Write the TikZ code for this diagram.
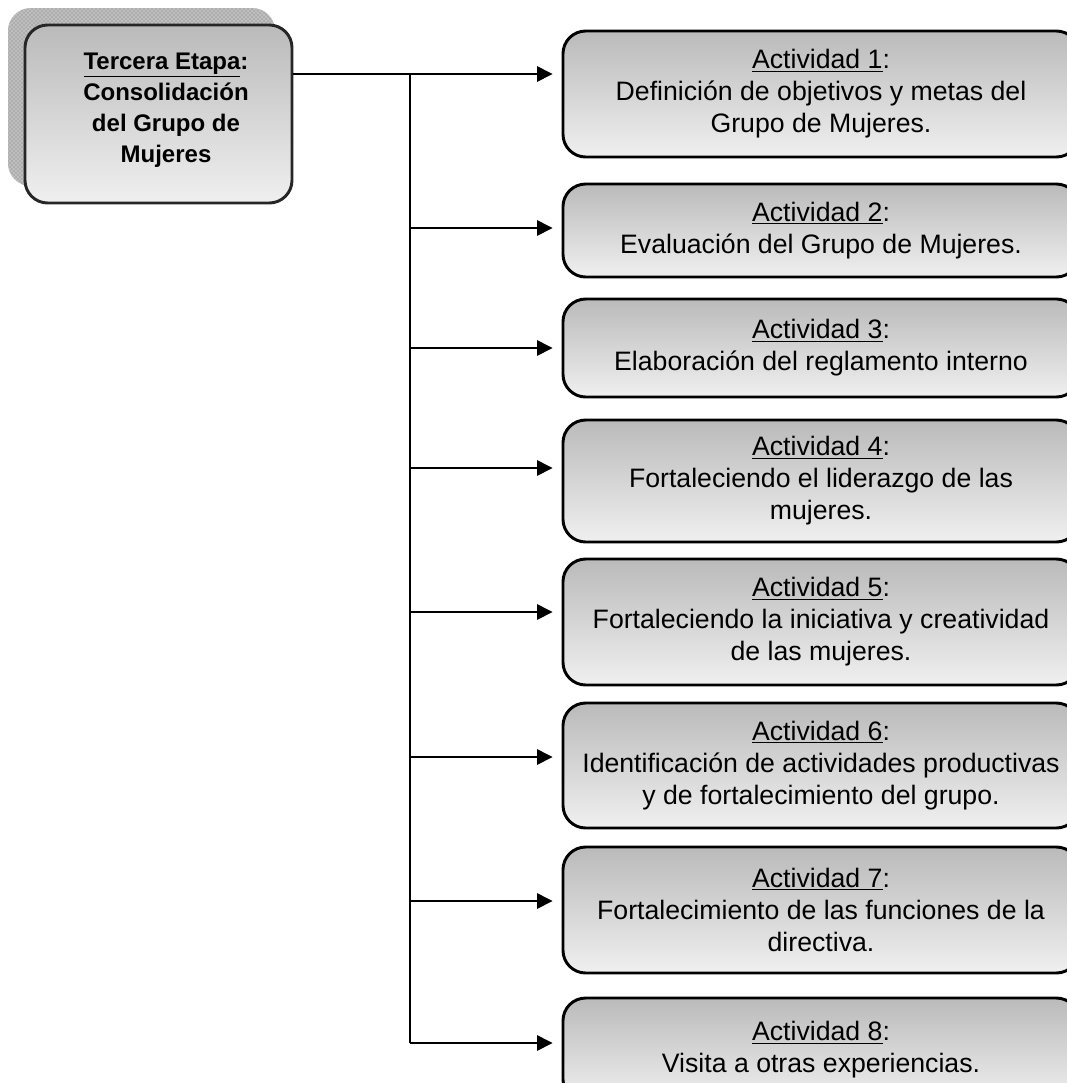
\documentclass[tikz,border=0pt]{standalone}
\usepackage{fontspec}
\setmainfont{Liberation Sans}
\usetikzlibrary{arrows.meta,shadows,patterns}
\begin{document}
\begin{tikzpicture}[x=.75pt,y=-.75pt,every node/.style={font=\fontsize{20}{24}\selectfont,align=center},
	etapa/.style={draw=black!85,line width=2.2pt,rounded corners=17pt,top color=black!27,bottom color=black!6,minimum width=200.25pt,minimum height=133.5pt,
		general shadow={fill=black!32,shadow xshift=-12.75pt,shadow yshift=12.75pt},
		general shadow={pattern=crosshatch dots,pattern color=white,shadow xshift=-12.75pt,shadow yshift=12.75pt}},
	titulo/.style={font=\fontsize{18}{23.25}\selectfont\bfseries},
	actbox/.style={draw,line width=2.2pt,rounded corners=17pt,top color=black!27,bottom color=black!6,minimum width=387pt},
	flecha/.style={line width=1.1pt,-{Triangle[length=11.5pt,width=11.5pt]},shorten >=6.75pt}]
		\useasboundingbox(0,0)rectangle(1067,1083);
		\coordinate(B1)at(410,74);
		\coordinate(B2)at(410,228);
		\coordinate(B3)at(410,348);
		\coordinate(B4)at(410,468);
		\coordinate(B5)at(410,612);
		\coordinate(B6)at(410,757);
		\coordinate(B7)at(410,901);
		\coordinate(B8)at(410,1043);
		\node[etapa](etapa)at(158.5,114){};
		\node[titulo](tit)at(166,110){\underline{Tercera Etapa}:\\Consolidación\\del Grupo de\\Mujeres};
		\node[actbox,minimum height=94.5pt](A1)at(821,94){\underline{Actividad 1}:\\Definición de objetivos y metas del\\Grupo de Mujeres.};
		\node[actbox,minimum height=69.75pt](A2)at(821,230.5){\underline{Actividad 2}:\\Evaluación del Grupo de Mujeres.};
		\node[actbox,minimum height=73.5pt](A3)at(821,348){\underline{Actividad 3}:\\Elaboración del reglamento interno};
		\node[actbox,minimum height=91.5pt](A4)at(821,481){\underline{Actividad 4}:\\Fortaleciendo el liderazgo de las\\mujeres.};
		\node[actbox,minimum height=94.5pt](A5)at(821,622){\underline{Actividad 5}:\\Fortaleciendo la iniciativa y creatividad\\de las mujeres.};
		\node[actbox,minimum height=93.75pt](A6)at(821,765.5){\underline{Actividad 6}:\\Identificación de actividades productivas\\y de fortalecimiento del grupo.};
		\node[actbox,minimum height=94.5pt](A7)at(821,910){\underline{Actividad 7}:\\Fortalecimiento de las funciones de la\\directiva.};
		\node[actbox,minimum height=78pt](A8)at(821,1050){\underline{Actividad 8}:\\Visita a otras experiencias.};
		%tronco y flechas
		\draw[flecha](etapa.east|-B1)--(B1-|A1.west);
		\draw[line width=1.1pt](B1)--(B8);
		\foreach\i in{2,...,8}{\draw[flecha](B\i)--(B\i-|A\i.west);}
	\end{tikzpicture}
\end{document}
